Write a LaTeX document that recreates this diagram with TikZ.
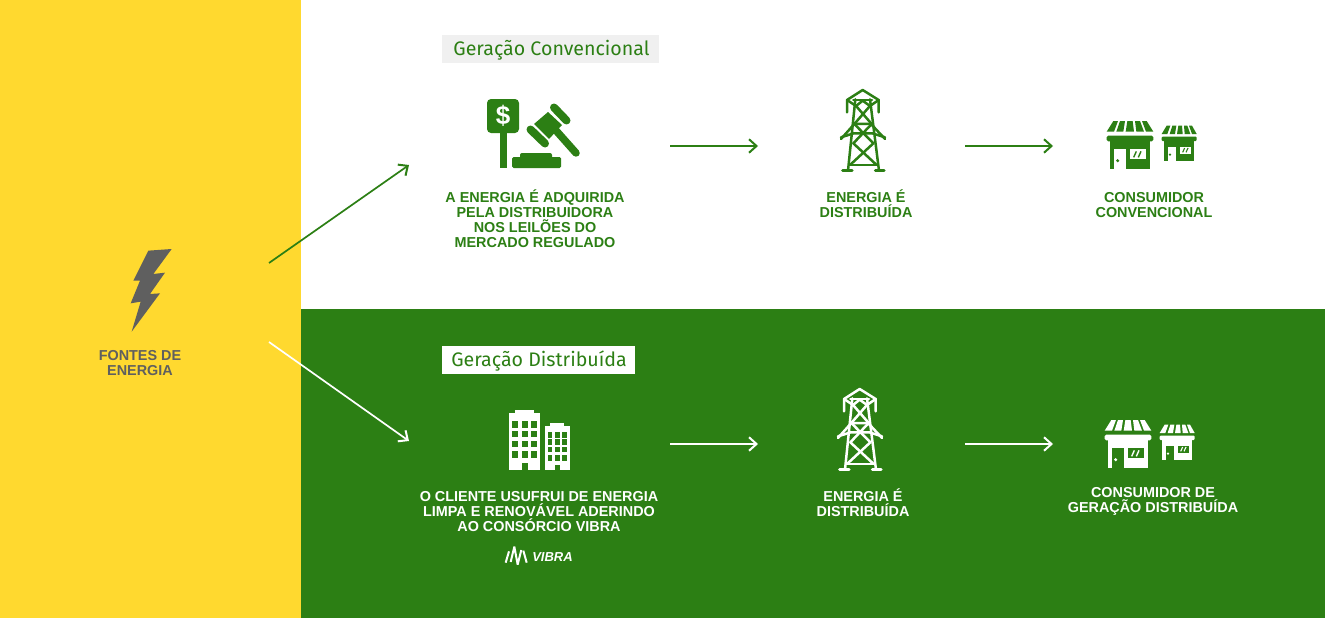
\documentclass[tikz,border=0pt]{standalone}
\usepackage{fontspec}
\setmainfont{Liberation Sans}
\newfontfamily\headfont{Fira Sans}
\newfontfamily\logofont{Liberation Sans}
\usetikzlibrary{arrows.meta}
\definecolor{vgreen}{HTML}{2C7F14}
\definecolor{vyellow}{HTML}{FFD92F}
\definecolor{vgray}{HTML}{5F5F5F}
\definecolor{vbox}{HTML}{F0F0F0}
\tikzset{
  conn/.style={line width=1.7pt,-{Straight Barb[length=7.5pt,width=13.5pt,line width=2pt]}},
  lbl/.style={font=\fontsize{14.4}{15}\selectfont\bfseries,align=center,anchor=center,inner sep=0pt},
  headtext/.style={font=\headfont\fontsize{19.6}{22}\selectfont,text=vgreen,anchor=base,inner sep=0pt},
  zoomed/.style={x=0.33333pt,y=-0.33333pt}
}
\newcommand{\drawtower}[3]{%
\begin{scope}[shift={(#1,#2)},zoomed,draw=#3,line width=2.5pt,line cap=round,line join=round]
  \draw (81,97)--(81,60)--(128,30)--(176,60)--(176,97);
  \draw (81,60)--(108,78)--(128,62)--(150,78)--(176,60);
  \draw (100,60)--(156,60);
  \draw (106,58)--(84,272);
  \draw (150,58)--(177,272);
  \draw (63,177)--(103,132)--(153,132)--(195,177);
  \draw (63,172)--(101,160)--(157,160)--(195,172);
  \draw (110,80)--(155,132)--(100,190)--(170,255);
  \draw (148,80)--(103,132)--(160,190)--(90,255);
  \draw (88,255)--(172,255);
  \draw[line width=3pt] (68,271)--(96,271);
  \draw[line width=3pt] (166,271)--(192,271);
\end{scope}}
\newcommand{\drawstore}[4]{%
\begin{scope}[shift={(#1,#2)},zoomed]
  % large store
  \foreach \a/\b/\c/\d in {55/69/35/57,75/90/64/85,97/113/92/117,120/135/124/147,141/155/153/175}
    \fill[#3] (\a,33)--(\b,33)--(\d,65)--(\c,65)--cycle;
  \fill[#3,rounded corners=1.5pt] (35,77) rectangle (175,94);
  \fill[#3] (45,90) rectangle (165,177);
  \fill[#4] (58,117) rectangle (92,177);
  \fill[#3] (68,152) circle (1.7pt);
  \fill[#4] (106,118) rectangle (152,148);
  \draw[#3,line width=1.4pt] (116,142)--(124,124) (130,142)--(138,124);
  % small store
  \foreach \a/\b/\c/\d in {215/226/200/217,232/244/224/240,250/261/246/263,267/277/269/286,282/291/291/305}
    \fill[#3] (\a,47)--(\b,47)--(\d,72)--(\c,72)--cycle;
  \fill[#3,rounded corners=1pt] (200,80) rectangle (305,93);
  \fill[#3] (208,90) rectangle (297,152);
  \fill[#4] (218,110) rectangle (242,152);
  \fill[#3] (225,134) circle (1.3pt);
  \fill[#4] (255,110) rectangle (287,132);
  \draw[#3,line width=1.1pt] (263,127)--(269,114) (273,127)--(279,114);
\end{scope}}
\begin{document}
\begin{tikzpicture}[x=1pt,y=-1pt]
\useasboundingbox (0,0) rectangle (1325,618);
\fill[white] (0,0) rectangle (1325,618);
\fill[vgreen] (301,309) rectangle (1325,618);
\fill[vyellow] (0,0) rectangle (301,618);

% bolt
\begin{scope}[shift={(90,240)},zoomed]
  \fill[vgray] (175,32)--(245,27)--(190,102)--(225,98)--(180,162)--(210,160)--(125,275)--(152,185)--(122,190)--(150,122)--(130,122)--cycle;
\end{scope}
\node[lbl,text=vgray] (fontes) at (140,363) {FONTES DE\\ENERGIA};

% headings
\fill[vbox] (442,35) rectangle (659,63);
\fill[white] (442,346) rectangle (635,374);
\node[headtext] (conv) at (551.5,56) {Geração Convencional};
\node[headtext] (dist) at (539,366) {Geração Distribuída};

% gavel
\begin{scope}[vgreen]
  \fill[rounded corners=4pt] (487,99) rectangle (519,133);
  \fill (500,130) rectangle (507.3,168);
  \node[font=\fontsize{26}{26}\selectfont\bfseries,text=white,inner sep=0pt] (dollar) at (503.2,116) {\$};
  \fill[rounded corners=1.5pt] (512,157) rectangle (561,168);
  \fill[rounded corners=2pt] (520,153) rectangle (552,160);
  \draw[line width=7.5pt,line cap=round] (552,126)--(576,153);
  \fill (548,112)--(562,125)--(549,139)--(534,124)--cycle;
  \draw[line width=8pt,line cap=round] (554,107.5)--(566.5,120.5);
  \draw[line width=8pt,line cap=round] (530.5,129.5)--(545,143.5);
\end{scope}

% towers and stores
\drawtower{820}{80}{vgreen}
\drawtower{817}{379}{white}
\drawstore{1095}{110}{vgreen}{white}
\drawstore{1093}{409}{white}{vgreen}

% buildings
\begin{scope}[shift={(495,400)},zoomed]
  \fill[white] (60,30) rectangle (118,40);
  \fill[white] (42,38) rectangle (135,210);
  \foreach \y/\h in {62/84,92/112,122/142,152/174}
    \foreach \x/\w in {52/70,80/98,108/126}
      \fill[vgreen] (\x,\y) rectangle (\w,\h);
  \fill[vgreen] (80,188) rectangle (98,210);
  \fill[white] (165,70) rectangle (208,80);
  \fill[white] (151,78) rectangle (224,210);
  \foreach \y/\h in {95/113,118/135,140/157,165/183}
    \foreach \x/\w in {158/172,180/194,202/216}
      \fill[vgreen] (\x,\y) rectangle (\w,\h);
  \fill[vgreen] (180,195) rectangle (194,210);
\end{scope}

% labels
\node[lbl,text=vgreen] (a1) at (535,218.5) {A ENERGIA É ADQUIRIDA\\PELA DISTRIBUIDORA\\NOS LEILÕES DO\\MERCADO REGULADO};
\node[lbl,text=vgreen] (a2) at (866,203.5) {ENERGIA É\\DISTRIBUÍDA};
\node[lbl,text=vgreen] (a3) at (1154,205.5) {CONSUMIDOR\\CONVENCIONAL};
\node[lbl,text=white] (b1) at (539,512) {O CLIENTE USUFRUI DE ENERGIA\\LIMPA E RENOVÁVEL ADERINDO\\AO CONSÓRCIO VIBRA};
\node[lbl,text=white] (b2) at (863,502.5) {ENERGIA É\\DISTRIBUÍDA};
\node[lbl,text=white] (b3) at (1153,501.5) {CONSUMIDOR DE\\GERAÇÃO DISTRIBUÍDA};

% logo
\begin{scope}[shift={(495,540)},zoomed,line width=2pt,white,line join=bevel,line cap=butt]
  \draw (32,68)--(42,34);
  \draw (47,66)--(58,20)--(68,74)--(79,30);
  \draw (85,32)--(95,68);
\end{scope}
\node[font=\logofont\fontsize{13}{15}\selectfont\bfseries\itshape,text=white,inner sep=0pt] (vibra) at (552.5,557.5) {VIBRA};

% connectors
\coordinate (s1) at (269,263); \coordinate (e1) at (409,165);
\coordinate (s2) at (269,342); \coordinate (e2) at (409,441);
\coordinate (p1) at (670,146); \coordinate (p2) at (758,146);
\coordinate (p3) at (965,146); \coordinate (p4) at (1053,146);
\coordinate (q1) at (670,444); \coordinate (q2) at (758,444);
\coordinate (q3) at (965,444); \coordinate (q4) at (1053,444);
\draw[conn,vgreen] (s1)--(e1);
\draw[conn,white] (s2)--(e2);
\draw[conn,vgreen] (p1)--(p2);
\draw[conn,vgreen] (p3)--(p4);
\draw[conn,white] (q1)--(q2);
\draw[conn,white] (q3)--(q4);
\end{tikzpicture}
\end{document}
